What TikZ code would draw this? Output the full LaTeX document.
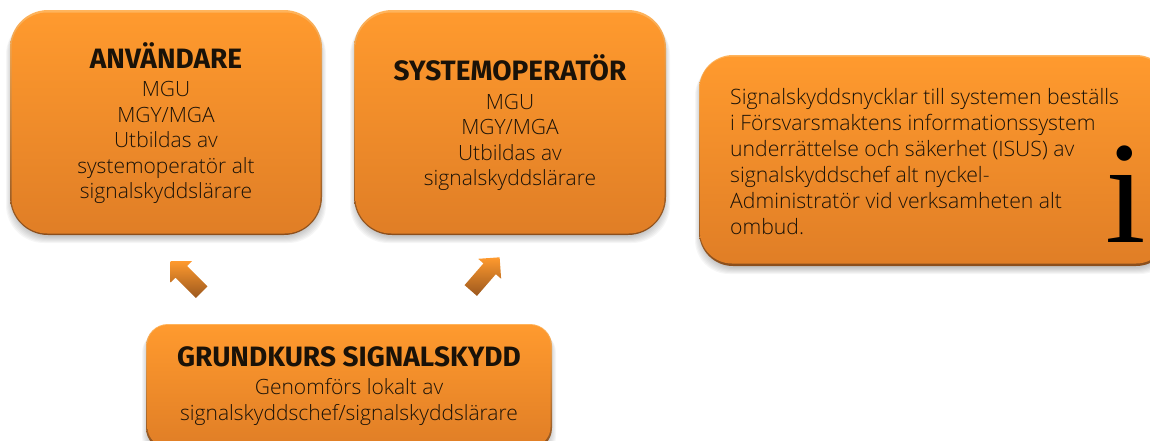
\documentclass[tikz,border=0pt]{standalone}
\usepackage{fontspec}
\setmainfont{Open Sans Light}
\newfontfamily\headfont{Fira Sans}[UprightFont=*,BoldFont=* Bold]
\newfontfamily\serifi{Liberation Serif}
\usetikzlibrary{shapes.arrows}

\definecolor{boxtop}{HTML}{FF9A2E}
\definecolor{boxbot}{HTML}{E07E26}
\definecolor{rimtop}{HTML}{FFB45C}
\definecolor{rimbot}{HTML}{8A4E1C}
\definecolor{inktext}{HTML}{1A1208}

\tikzset{
    orangebox/.style={rectangle,inner sep=0pt,text=inktext,align=center,top color=boxtop,bottom color=boxbot,font=\fontsize{21}{25.5}\selectfont},
    blockarrow/.style={shape=single arrow,inner xsep=0pt,inner ysep=8pt,minimum height=44pt,minimum width=30pt,single arrow head extend=7pt,single arrow head indent=0pt,top color=boxtop,bottom color=rimbot!80!boxbot,text=inktext}
}
\newcommand{\headline}[1]{{\headfont\bfseries\fontsize{28}{32}\selectfont #1}}

% soft shadow and rim below a box
\newcommand{\boxbase}[5]{
    \foreach \d in {1,2,...,7} {
        \fill[black,opacity=0.035,rounded corners=#5pt] (#1-\d+3,#2+\d) rectangle (#3+\d-3,#4+\d+1);
    }
    \shade[top color=rimtop,bottom color=rimbot,rounded corners=#5pt] (#1,#2) rectangle (#3,#4);
}

\begin{document}
\begin{tikzpicture}[x=1pt,y=1pt,yscale=-1,xscale=1]
            \useasboundingbox (0,0) rectangle (1150,440);
            \clip (0,0) rectangle (1150,440);

            %Shape: left box
            \boxbase{10}{10}{322}{235}{38}
            \node [orangebox,rounded corners=36pt,minimum width=309pt,minimum height=221pt] (anvandare) at (166,123) {\headline{ANVÄNDARE}\\[3pt]MGU\\MGY/MGA\\Utbildas av\\systemoperatör alt\\signalskyddslärare};

            %Shape: middle box
            \boxbase{354}{10}{666}{235}{38}
            \node [orangebox,rounded corners=36pt,minimum width=309pt,minimum height=221pt] (systemoperator) at (510,123) {\headline{SYSTEMOPERATÖR}\\[3pt]MGU\\MGY/MGA\\Utbildas av\\signalskyddslärare};

            %Shape: right box
            \boxbase{699}{55}{1170}{266}{34}
            \node [orangebox,rounded corners=32pt,minimum width=468pt,minimum height=207pt] (info) at (934,160) {};
            % Text Node
            \node [anchor=north west,text=inktext,align=left,inner sep=0pt,font=\fontsize{21.2}{26}\selectfont] (infotext) at (730,88) {Signalskyddsnycklar till systemen beställs\\i Försvarsmaktens informationssystem\\underrättelse och säkerhet (ISUS) av\\signalskyddschef alt nyckel-\\Administratör vid verksamheten alt\\ombud.};
            % Text Node
            \node [inner sep=0pt,text=black,font=\serifi\fontsize{146}{146}\selectfont] (infoi) at (1126,194) {i};

            %Shape: bottom box
            \boxbase{146}{324}{552}{450}{22}
            \node [orangebox,rounded corners=20pt,minimum width=403pt,minimum height=122pt] (grundkurs) at (349,386) {\headline{GRUNDKURS SIGNALSKYDD}\\[3pt]Genomförs lokalt av\\signalskyddschef/signalskyddslärare};

            %Shape: arrows
            \node [blockarrow,rotate=135] (pilvanster) at (189,279.5) {};
            \node [blockarrow,rotate=49] (pilhoger) at (482.5,277) {};
\end{tikzpicture}
\end{document}
